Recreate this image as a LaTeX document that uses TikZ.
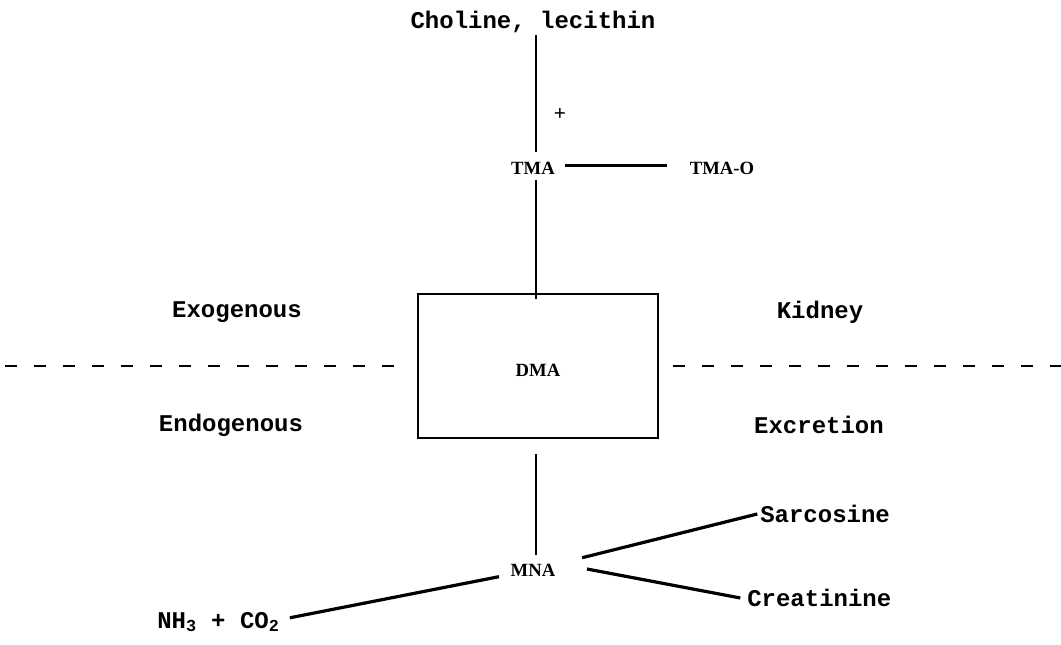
\documentclass[tikz,border=0pt]{standalone}
\usepackage{fontspec}
\setmonofont{Liberation Mono}
\newfontfamily\typeserif{Liberation Serif}
\begin{document}
\begin{tikzpicture}[x=0.75pt,y=-0.75pt,
  lbl/.style={font=\ttfamily\bfseries\fontsize{18}{20}\selectfont,inner sep=0pt},
  chem/.style={font=\typeserif\bfseries\fontsize{14}{16}\selectfont,inner sep=0pt},
  link/.style={line width=1.3pt},
  heavy/.style={line width=2.4pt},
  pool/.style={draw,line width=1.8pt,minimum width=180pt,minimum height=108pt,inner sep=0pt},
  divide/.style={line width=1.6pt,dash pattern=on 9pt off 12.75pt}]
\useasboundingbox (0,0) rectangle (1061,645);

% metabolites
\node[lbl] (chol) at (533,22) {Choline, lecithin};
\node[chem] (tma) at (533,168) {TMA};
\node[chem] (tmao) at (722,168) {TMA-O};
\node[pool] (dma) at (538,366) {};
\node[chem] (dmalbl) at (538,370) {DMA};
\node[chem] (mna) at (533,570) {MNA};
\node[lbl,anchor=west] (sarc) at (760,514) {Sarcosine};
\node[lbl,anchor=west] (creat) at (747,598) {Creatinine};
\node[lbl,anchor=base west] (nh3) at (157,628) {NH\textsubscript{3} + CO\textsubscript{2}};
\node[font=\typeserif\bfseries\fontsize{16}{18}\selectfont,inner sep=0pt] (plus) at (560,114) {+};

% region labels
\node[lbl] (exo) at (237,312) {Exogenous};
\node[lbl] (kid) at (820,312) {Kidney};
\node[lbl] (endo) at (231,425) {Endogenous};
\node[lbl] (excr) at (819,425) {Excretion};

% dividing line
\coordinate (dl) at (5,366);
\coordinate (dr) at (1061,366);
\draw[divide] (dl) -- ([xshift=-7.5pt]dma.west);
\draw[divide] ([xshift=10.5pt]dma.east) -- (dr);

% pathway, all on the vertical axis x = 536
\draw[link] ([xshift=2.25pt,yshift=-9.75pt]chol.center) -- ([xshift=2.25pt,yshift=12pt]tma.center);
\draw[link] ([xshift=2.25pt,yshift=-9pt]tma.center) -- ([xshift=-1.5pt,yshift=-4.5pt]dma.north);
\draw[heavy] ([xshift=24pt,yshift=2pt]tma.center) -- ([xshift=-41pt,yshift=2pt]tmao.center);
\draw[link] ([xshift=-1.5pt,yshift=-11.25pt]dma.south) -- ([xshift=2.25pt,yshift=11.25pt]mna.center);
\draw[heavy,shorten <=38pt] (mna.center) -- ([xshift=-2pt]sarc.west);
\draw[heavy] ([xshift=40.5pt,yshift=0.75pt]mna.center) -- ([xshift=-5pt]creat.west);
\draw[heavy,shorten <=26pt] (mna.center) -- ([xshift=7.5pt,yshift=3pt]nh3.east);
\end{tikzpicture}
\end{document}
